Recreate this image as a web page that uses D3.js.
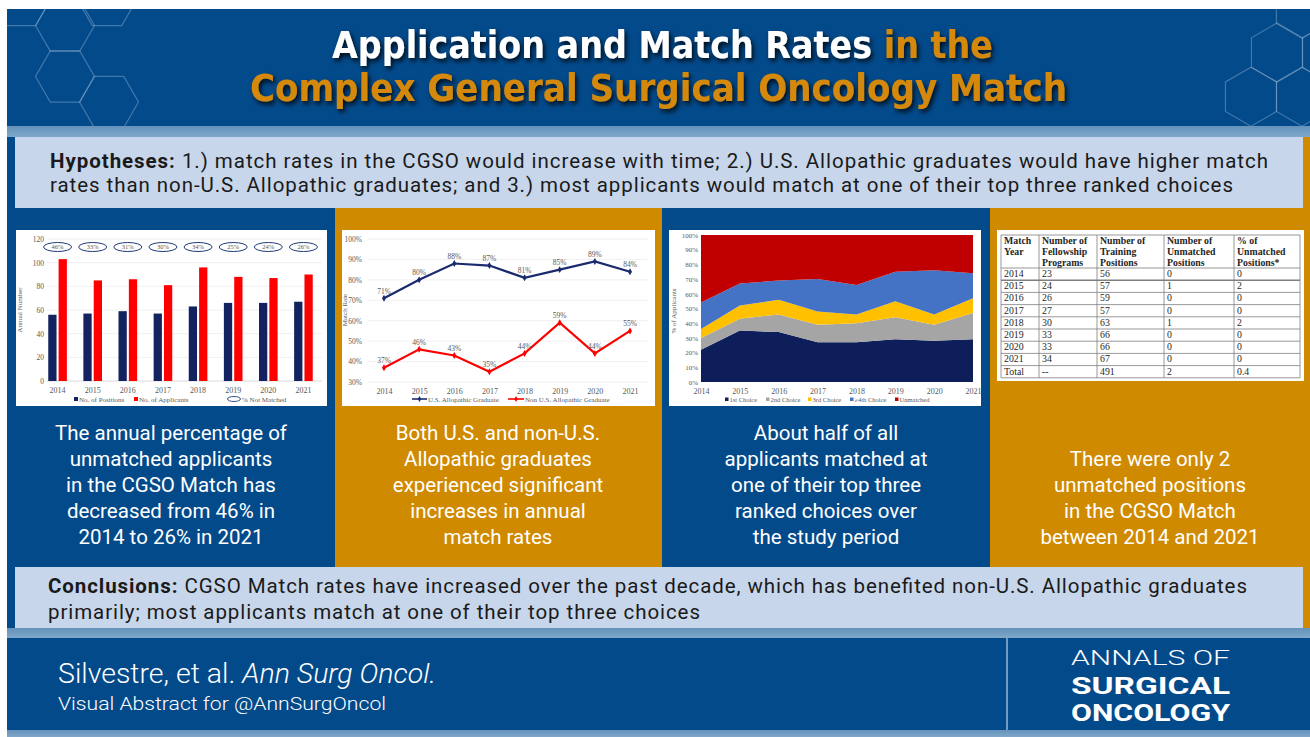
<!DOCTYPE html>
<html>
<head>
<meta charset="utf-8">
<script src="https://cdn.jsdelivr.net/npm/d3@7"></script>
<style>
  body { margin: 0; background: #fff; }
  svg { display: block; }
</style>
</head>
<body>
<script>
// ---- data ----
var years = [2014, 2015, 2016, 2017, 2018, 2019, 2020, 2021];

// panel 1: bars
var positions  = [56, 57, 59, 57, 63, 66, 66, 67];
var applicants = [103, 85, 86, 81, 96, 88, 87, 90];
var notMatched = [46, 33, 31, 30, 34, 25, 24, 26];

// panel 2: match rate (%)
var usGrad    = [71, 80, 88, 87, 81, 85, 89, 84];
var nonUsGrad = [37, 46, 43, 35, 44, 59, 44, 55];

// panel 3: % of applicants by choice
var choice1   = [22, 35, 34, 27, 27, 29, 28, 29];
var choice2   = [8, 8, 12, 12, 13, 15, 11, 18];
var choice3   = [6, 9, 10, 9, 6, 11, 7, 10];
var choice4   = [18, 15, 13, 22, 20, 20, 30, 17];
var unmatched = [46, 33, 31, 30, 34, 25, 24, 26];

// panel 4: table
var programs        = [23, 24, 26, 27, 30, 33, 33, 34];
var trainingPos     = [56, 57, 59, 57, 63, 66, 66, 67];
var unmatchedPos    = [0, 1, 0, 0, 1, 0, 0, 0];
var pctUnmatchedPos = [0, 2, 0, 0, 2, 0, 0, 0];
var totalRow        = ["Total", "--", "491", "2", "0.4"];
var tableHeader = [
  ["Match", "Year"],
  ["Number of", "Fellowship", "Programs"],
  ["Number of", "Training", "Positions"],
  ["Number of", "Unmatched", "Positions"],
  ["% of", "Unmatched", "Positions*"]
];

// texts
var panelText = [
  ["The annual percentage of", "unmatched applicants", "in the CGSO Match has", "decreased from 46% in", "2014 to 26% in 2021"],
  ["Both U.S. and non-U.S.", "Allopathic graduates", "experienced significant", "increases in annual", "match rates"],
  ["About half of all", "applicants matched at", "one of their top three", "ranked choices over", "the study period"],
  ["", "There were only 2", "unmatched positions", "in the CGSO Match", "between 2014 and 2021"]
];

// ---- colours ----
var blue = "#034a8b", orange = "#d08a00", pale = "#c7d6eb";
var navy = "#13235f", red = "#ff0000";
var serif = "'Liberation Serif', 'Times New Roman', serif";
var sans = "Roboto, 'Open Sans', sans-serif";

var svg = d3.select("body").append("svg")
    .attr("width", 1310)
    .attr("height", 737);

var defs = svg.append("defs");
var grad = defs.append("linearGradient").attr("id", "strip").attr("x1", 0).attr("y1", 0).attr("x2", 0).attr("y2", 1);
grad.append("stop").attr("offset", "0%").attr("stop-color", "#6592bb");
grad.append("stop").attr("offset", "100%").attr("stop-color", "#7fa8ca");
var shadow = defs.append("filter").attr("id", "shadow").attr("x", "-10%").attr("y", "-30%").attr("width", "120%").attr("height", "160%");
shadow.append("feDropShadow").attr("dx", 2).attr("dy", 3).attr("stdDeviation", 2.5)
    .attr("flood-color", "#000").attr("flood-opacity", 0.85);
defs.append("clipPath").attr("id", "headClip").append("rect")
    .attr("x", 7).attr("y", 9).attr("width", 1303).attr("height", 117);

// ---- background blocks ----
svg.append("rect").attr("x", 7).attr("y", 9).attr("width", 1303).attr("height", 117).attr("fill", blue);
svg.append("rect").attr("x", 7).attr("y", 126).attr("width", 1303).attr("height", 11).attr("fill", "url(#strip)");

var panelX = [7, 335, 662, 990, 1310];
var panelFill = [blue, orange, blue, orange];
panelFill.forEach(function(c, i) {
  svg.append("rect")
      .attr("x", panelX[i]).attr("y", 137)
      .attr("width", panelX[i + 1] - panelX[i]).attr("height", 491)
      .attr("fill", c);
});

svg.append("rect").attr("x", 7).attr("y", 628).attr("width", 1303).attr("height", 10).attr("fill", "url(#strip)");
svg.append("rect").attr("x", 7).attr("y", 638).attr("width", 1303).attr("height", 92).attr("fill", blue);
svg.append("rect").attr("x", 7).attr("y", 730).attr("width", 1303).attr("height", 7).attr("fill", "url(#strip)");

// hexagon decoration in the header
function hexPath(cx, cy, r, flat) {
  var pts = d3.range(6).map(function(k) {
    var a = (flat ? 0 : 30) * Math.PI / 180 + k * Math.PI / 3;
    return [cx + r * Math.cos(a), cy + r * Math.sin(a)];
  });
  return "M" + pts.join("L") + "Z";
}
var hexes = [
  [21, 0, true], [107, 0, true], [65, 25.5, true], [65, 76.5, true], [109, 102, true],
  [1277, 52.5, false], [1251, 96.7, false], [1302, 8.7, false], [1328, 52.5, false], [1302, 96.7, false]
];
svg.append("g").attr("clip-path", "url(#headClip)")
  .selectAll("path").data(hexes).enter().append("path")
    .attr("d", function(d) { return hexPath(d[0], d[1], 29.5, d[2]); })
    .attr("fill", "none")
    .attr("stroke", "#9fbbd8")
    .attr("stroke-opacity", 0.4)
    .attr("stroke-width", 1.2);

// ---- title ----
var t1 = svg.append("text")
    .attr("x", 332).attr("y", 58)
    .attr("textLength", 661).attr("lengthAdjust", "spacingAndGlyphs")
    .attr("filter", "url(#shadow)")
    .style("font-family", "'DejaVu Sans Condensed', 'DejaVu Sans', sans-serif")
    .style("font-weight", "bold").style("font-size", "37px");
t1.append("tspan").attr("fill", "#fff").text("Application and Match Rates ");
t1.append("tspan").attr("fill", "#d4890a").text("in the");

svg.append("text")
    .attr("x", 250).attr("y", 101)
    .attr("textLength", 817).attr("lengthAdjust", "spacingAndGlyphs")
    .attr("filter", "url(#shadow)")
    .attr("fill", "#d4890a")
    .style("font-family", "'DejaVu Sans Condensed', 'DejaVu Sans', sans-serif")
    .style("font-weight", "bold").style("font-size", "37px")
    .text("Complex General Surgical Oncology Match");

// ---- hypotheses and conclusions boxes ----
svg.append("rect").attr("x", 15).attr("y", 137).attr("width", 1288).attr("height", 71).attr("fill", pale);
svg.append("rect").attr("x", 15).attr("y", 567).attr("width", 1288).attr("height", 61).attr("fill", pale);

function boxLine(x, y, len, bold, rest) {
  var t = svg.append("text")
      .attr("x", x).attr("y", y)
      .attr("fill", "#1a1a1a")
      .style("font-family", sans).style("font-size", "20.5px");
  if (len) t.attr("textLength", len).attr("lengthAdjust", "spacing");
  if (bold) t.append("tspan").style("font-weight", "bold").text(bold);
  t.append("tspan").text(rest);
}
boxLine(50, 168, 1218, "Hypotheses:", " 1.) match rates in the CGSO would increase with time; 2.) U.S. Allopathic graduates would have higher match");
boxLine(50, 192, 1183, null, "rates than non-U.S. Allopathic graduates; and 3.) most applicants would match at one of their top three ranked choices");
boxLine(48, 593, 1199, "Conclusions:", " CGSO Match rates have increased over the past decade, which has benefited non-U.S. Allopathic graduates");
boxLine(48, 619, 652, null, "primarily; most applicants match at one of their top three choices");

// ---- panel texts ----
var panelCenter = [171, 498, 826, 1150];
panelText.forEach(function(lines, i) {
  svg.append("g").selectAll("text").data(lines).enter().append("text")
      .attr("x", panelCenter[i])
      .attr("y", function(d, k) { return 440 + k * 26; })
      .attr("text-anchor", "middle")
      .attr("fill", "#fff")
      .style("font-family", sans).style("font-size", "20.5px")
      .text(function(d) { return d; });
});

// small helper for the chart text style
function small(sel, size) {
  return sel.style("font-family", serif).style("font-size", (size || 8) + "px").attr("fill", "#595959");
}

// ================= chart 1: positions vs applicants =================
var c1 = svg.append("g");
c1.append("rect").attr("x", 16).attr("y", 230).attr("width", 311).attr("height", 176).attr("fill", "#fff");

var y1 = d3.scaleLinear().domain([0, 120]).range([381, 239]);
var x1 = d3.scaleBand().domain(years).range([40, 321]).paddingInner(0.47).paddingOuter(0.235);
var x1s = d3.scaleBand().domain(["pos", "app"]).range([0, x1.bandwidth()]).paddingInner(0.2);

c1.selectAll(".grid").data(y1.ticks(6)).enter().append("line")
    .attr("x1", 47).attr("x2", 322)
    .attr("y1", function(d) { return y1(d); }).attr("y2", function(d) { return y1(d); })
    .attr("stroke", function(d) { return d === 0 ? "#d0d0d0" : "#ececec"; })
    .attr("stroke-width", 0.8);

var ax1 = c1.append("g").attr("transform", "translate(47,0)")
    .call(d3.axisLeft(y1).ticks(6).tickSize(0).tickPadding(3));
ax1.select(".domain").remove();
small(ax1.selectAll("text"), 7.5);

var bx1 = c1.append("g").attr("transform", "translate(0,381)")
    .call(d3.axisBottom(x1).tickSize(0).tickPadding(6));
bx1.select(".domain").remove();
small(bx1.selectAll("text"), 8);

var rows1 = years.map(function(y, i) { return { year: y, pos: positions[i], app: applicants[i], nm: notMatched[i] }; });
var grp1 = c1.selectAll(".grp").data(rows1).enter().append("g")
    .attr("transform", function(d) { return "translate(" + x1(d.year) + ",0)"; });
grp1.append("rect")
    .attr("x", x1s("pos")).attr("width", x1s.bandwidth())
    .attr("y", function(d) { return y1(d.pos); })
    .attr("height", function(d) { return y1(0) - y1(d.pos); })
    .attr("fill", navy);
grp1.append("rect")
    .attr("x", x1s("app")).attr("width", x1s.bandwidth())
    .attr("y", function(d) { return y1(d.app); })
    .attr("height", function(d) { return y1(0) - y1(d.app); })
    .attr("fill", red);
grp1.append("ellipse")
    .attr("cx", x1.bandwidth() / 2).attr("cy", 247)
    .attr("rx", 14).attr("ry", 4.5)
    .attr("fill", "#fff").attr("stroke", "#1f3a78").attr("stroke-width", 1);
small(grp1.append("text"), 6.5)
    .attr("x", x1.bandwidth() / 2).attr("y", 249.3)
    .attr("text-anchor", "middle")
    .text(function(d) { return d.nm + "%"; });

small(c1.append("text"), 7)
    .attr("transform", "translate(22,310) rotate(-90)")
    .attr("text-anchor", "middle")
    .text("Annual Number");

// legend
c1.append("rect").attr("x", 74).attr("y", 397).attr("width", 4).attr("height", 4).attr("fill", navy);
small(c1.append("text"), 7).attr("x", 79).attr("y", 401.5).text("No. of Positions");
c1.append("rect").attr("x", 134).attr("y", 397).attr("width", 4).attr("height", 4).attr("fill", red);
small(c1.append("text"), 7).attr("x", 139).attr("y", 401.5).text("No. of Applicants");
c1.append("ellipse").attr("cx", 234).attr("cy", 399).attr("rx", 6.5).attr("ry", 2.5)
    .attr("fill", "#fff").attr("stroke", "#1f3a78").attr("stroke-width", 0.9);
small(c1.append("text"), 7).attr("x", 242).attr("y", 401.5).text("% Not Matched");

// ================= chart 2: match rates =================
var c2 = svg.append("g");
c2.append("rect").attr("x", 342).attr("y", 230).attr("width", 313).attr("height", 176).attr("fill", "#fff");

var y2 = d3.scaleLinear().domain([30, 100]).range([382, 239]);
var x2 = d3.scalePoint().domain(years).range([384, 630]);

c2.selectAll(".grid").data(y2.ticks(7)).enter().append("line")
    .attr("x1", 368).attr("x2", 648)
    .attr("y1", function(d) { return y2(d); }).attr("y2", function(d) { return y2(d); })
    .attr("stroke", "#ececec").attr("stroke-width", 0.8);

var ax2 = c2.append("g").attr("transform", "translate(366,0)")
    .call(d3.axisLeft(y2).ticks(7).tickSize(0).tickPadding(4).tickFormat(function(d) { return d + "%"; }));
ax2.select(".domain").remove();
small(ax2.selectAll("text"), 7.5);

var bx2 = c2.append("g").attr("transform", "translate(0,382)")
    .call(d3.axisBottom(x2).tickSize(0).tickPadding(6));
bx2.select(".domain").remove();
small(bx2.selectAll("text"), 8);

small(c2.append("text"), 7)
    .attr("transform", "translate(347,310) rotate(-90)")
    .attr("text-anchor", "middle")
    .text("Match Rate");

var series2 = [
  { values: usGrad, color: "#1a2b6d" },
  { values: nonUsGrad, color: red }
];
var line2 = d3.line()
    .x(function(d, i) { return x2(years[i]); })
    .y(function(d) { return y2(d); });
series2.forEach(function(s) {
  c2.append("path").datum(s.values)
      .attr("d", line2).attr("fill", "none")
      .attr("stroke", s.color).attr("stroke-width", 2.2);
  c2.selectAll(null).data(s.values).enter().append("path")
      .attr("transform", function(d, i) { return "translate(" + x2(years[i]) + "," + y2(d) + ")"; })
      .attr("d", d3.symbol(d3.symbolDiamond, 14))
      .attr("fill", s.color);
  small(c2.selectAll(null).data(s.values).enter().append("text"), 7.5)
      .attr("x", function(d, i) { return x2(years[i]); })
      .attr("y", function(d) { return y2(d) - 4.5; })
      .attr("text-anchor", "middle")
      .text(function(d) { return d + "%"; });
});

// legend
c2.append("line").attr("x1", 412).attr("x2", 427).attr("y1", 399).attr("y2", 399).attr("stroke", "#1a2b6d").attr("stroke-width", 1.6);
c2.append("path").attr("transform", "translate(419.5,399)").attr("d", d3.symbol(d3.symbolDiamond, 10)).attr("fill", "#1a2b6d");
small(c2.append("text"), 7).attr("x", 428).attr("y", 401.5).text("U.S. Allopathic Graduate");
c2.append("line").attr("x1", 508).attr("x2", 524).attr("y1", 399).attr("y2", 399).attr("stroke", red).attr("stroke-width", 1.6);
c2.append("path").attr("transform", "translate(516,399)").attr("d", d3.symbol(d3.symbolDiamond, 10)).attr("fill", red);
small(c2.append("text"), 7).attr("x", 525).attr("y", 401.5).text("Non U.S. Allopathic Graduate");

// ================= chart 3: choices, 100% stacked area =================
var c3 = svg.append("g");
c3.append("rect").attr("x", 669).attr("y", 230).attr("width", 312).attr("height", 176).attr("fill", "#fff");

var keys3 = ["c1", "c2", "c3", "c4", "un"];
var names3 = ["1st Choice", "2nd Choice", "3rd Choice", "\u22654th Choice", "Unmatched"];
var colors3 = ["#0d1e5a", "#a5a5a5", "#ffc000", "#4472c4", "#c00000"];
var rows3 = years.map(function(y, i) {
  return { year: y, c1: choice1[i], c2: choice2[i], c3: choice3[i], c4: choice4[i], un: unmatched[i] };
});
var stack3 = d3.stack().keys(keys3).offset(d3.stackOffsetExpand)(rows3);

var y3 = d3.scaleLinear().domain([0, 1]).range([382, 235]);
var x3 = d3.scalePoint().domain(years).range([701, 973]);

var area3 = d3.area()
    .x(function(d) { return x3(d.data.year); })
    .y0(function(d) { return y3(d[0]); })
    .y1(function(d) { return y3(d[1]); });
c3.selectAll(".layer").data(stack3).enter().append("path")
    .attr("d", area3)
    .attr("fill", function(d, i) { return colors3[i]; });

var ax3 = c3.append("g").attr("transform", "translate(700,0)")
    .call(d3.axisLeft(y3).ticks(10).tickSize(0).tickPadding(2).tickFormat(d3.format(".0%")));
ax3.select(".domain").remove();
small(ax3.selectAll("text"), 7);

var bx3 = c3.append("g").attr("transform", "translate(0,382)")
    .call(d3.axisBottom(x3).tickSize(0).tickPadding(6));
bx3.select(".domain").remove();
small(bx3.selectAll("text"), 8);

small(c3.append("text"), 7)
    .attr("transform", "translate(676,311) rotate(-90)")
    .attr("text-anchor", "middle")
    .text("% of Applicants");

var legX3 = [725, 766, 808, 850, 895];
names3.forEach(function(n, i) {
  c3.append("rect").attr("x", legX3[i]).attr("y", 397.5).attr("width", 3.5).attr("height", 3.5).attr("fill", colors3[i]);
  small(c3.append("text"), 6.5).attr("x", legX3[i] + 4.5).attr("y", 401.5).text(n);
});

// ================= panel 4: table =================
var c4 = svg.append("g");
c4.append("rect").attr("x", 997).attr("y", 230).attr("width", 307).attr("height", 151).attr("fill", "#fff");

var colX = [1001, 1039, 1097, 1164, 1234, 1300];
var headTop = 235, headBottom = 268, rowH = 12.2;
var bodyRows = years.map(function(y, i) {
  return [y, programs[i], trainingPos[i], unmatchedPos[i], pctUnmatchedPos[i]];
});
bodyRows.push(totalRow);
var tableBottom = headBottom + rowH * bodyRows.length;

// grid lines
colX.forEach(function(x) {
  c4.append("line").attr("x1", x).attr("x2", x).attr("y1", headTop).attr("y2", tableBottom)
      .attr("stroke", "#7f7f7f").attr("stroke-width", 0.8);
});
var hLines = [headTop, headBottom].concat(bodyRows.map(function(r, i) { return headBottom + rowH * (i + 1); }));
hLines.forEach(function(y, i) {
  c4.append("line").attr("x1", colX[0]).attr("x2", colX[5]).attr("y1", y).attr("y2", y)
      .attr("stroke", "#7f7f7f").attr("stroke-width", i === 2 ? 1.6 : 0.8);
});

// header text
tableHeader.forEach(function(lines, j) {
  c4.selectAll(null).data(lines).enter().append("text")
      .attr("x", colX[j] + 3)
      .attr("y", function(d, k) { return headTop + 8.5 + k * 11.3; })
      .attr("fill", "#262626")
      .style("font-family", serif).style("font-size", "9.8px").style("font-weight", "bold")
      .text(function(d) { return d; });
});

// body text
bodyRows.forEach(function(r, i) {
  c4.selectAll(null).data(r).enter().append("text")
      .attr("x", function(d, j) { return colX[j] + 3; })
      .attr("y", headBottom + rowH * i + 9)
      .attr("fill", "#262626")
      .style("font-family", serif).style("font-size", "9.8px")
      .text(function(d) { return d; });
});

// ---- footer ----
svg.append("line").attr("x1", 1007).attr("x2", 1007).attr("y1", 638).attr("y2", 730)
    .attr("stroke", "#6f9cc2").attr("stroke-width", 2);

var f1 = svg.append("text")
    .attr("x", 58).attr("y", 683)
    .attr("textLength", 378).attr("lengthAdjust", "spacingAndGlyphs")
    .attr("fill", "#fff")
    .style("font-family", sans).style("font-weight", 300).style("font-size", "27px");
f1.append("tspan").text("Silvestre, et al. ");
f1.append("tspan").style("font-style", "italic").text("Ann Surg Oncol.");

svg.append("text")
    .attr("x", 58).attr("y", 710)
    .attr("textLength", 328).attr("lengthAdjust", "spacingAndGlyphs")
    .attr("fill", "#fff")
    .style("font-family", sans).style("font-weight", 300).style("font-size", "19px")
    .text("Visual Abstract for @AnnSurgOncol");

// journal logo: three stacked words
var logo = [
  { text: "ANNALS OF", y: 665, size: 20, weight: 300 },
  { text: "SURGICAL", y: 694, size: 24, weight: "bold" },
  { text: "ONCOLOGY", y: 721, size: 24, weight: "bold" }
];
svg.append("g").selectAll("text").data(logo).enter().append("text")
    .attr("x", 1071)
    .attr("y", function(d) { return d.y; })
    .attr("textLength", 159).attr("lengthAdjust", "spacingAndGlyphs")
    .attr("fill", "#fff")
    .style("font-family", sans)
    .style("font-weight", function(d) { return d.weight; })
    .style("font-size", function(d) { return d.size + "px"; })
    .text(function(d) { return d.text; });
</script>
</body>
</html>
